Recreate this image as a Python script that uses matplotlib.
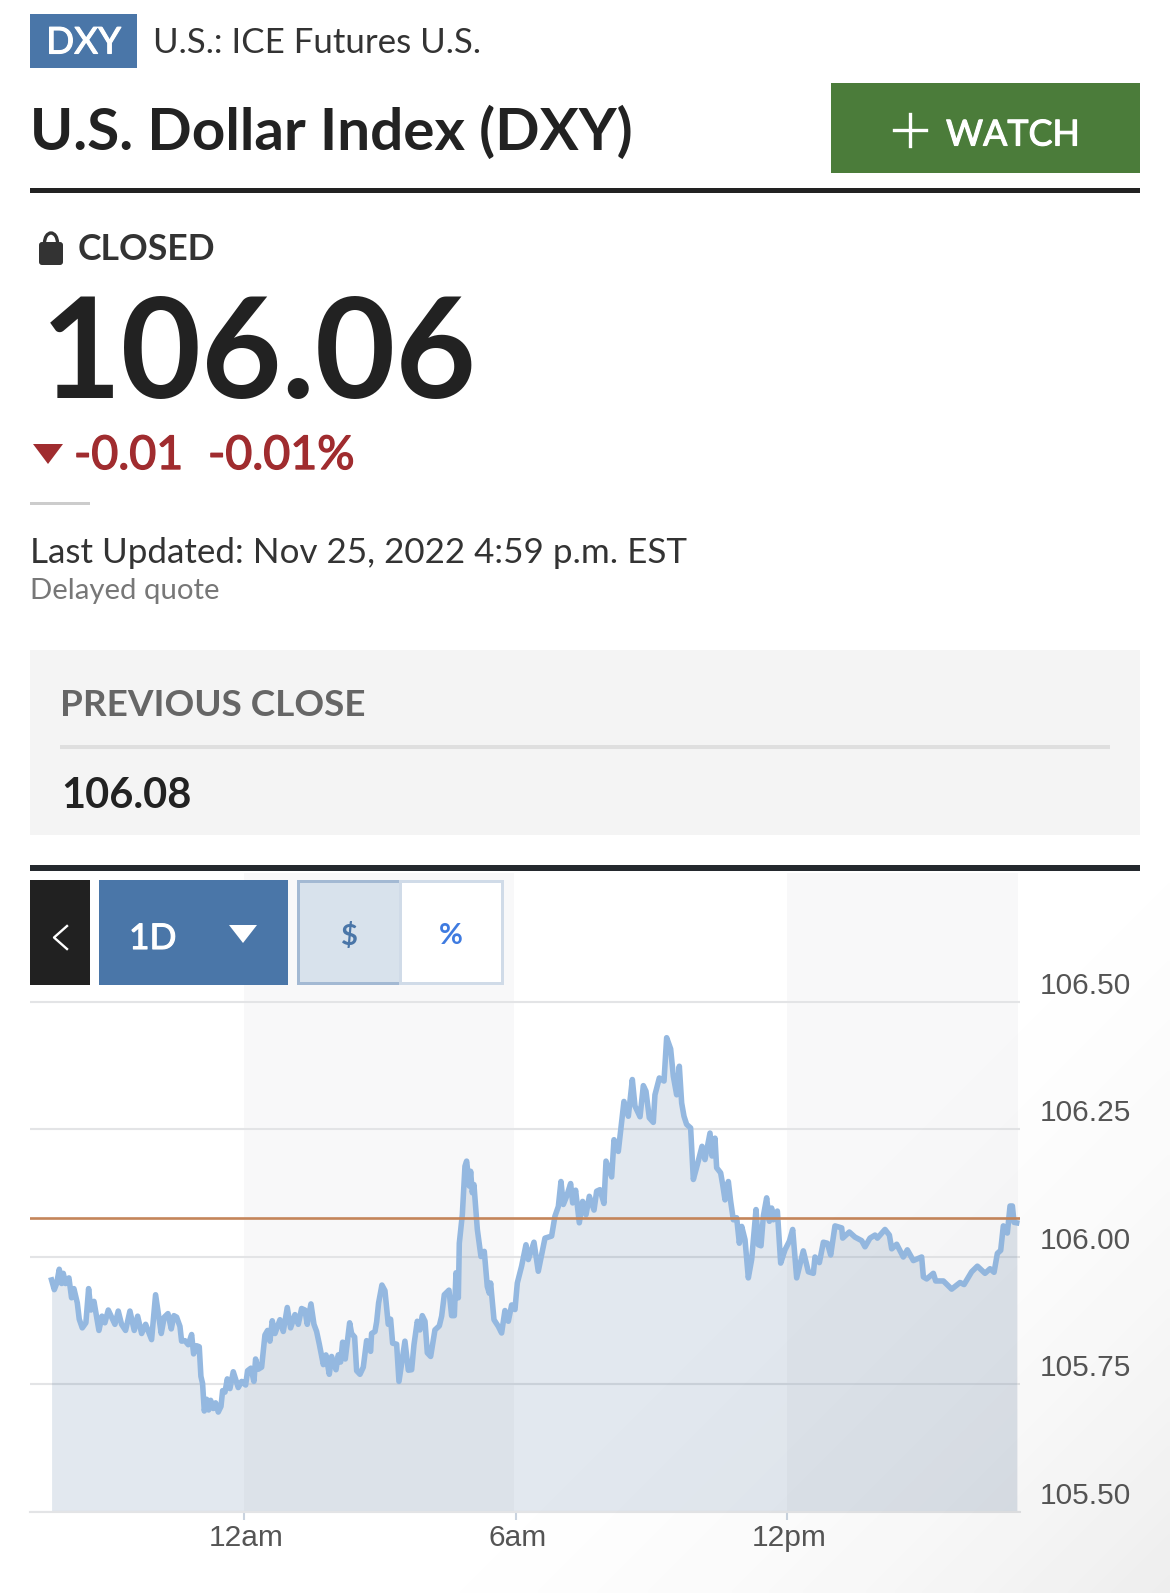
import numpy as np
import matplotlib
matplotlib.use("Agg")
import matplotlib.pyplot as plt
import matplotlib.patheffects as pe
from matplotlib.patches import Rectangle, Polygon, Arc, FancyBboxPatch
from matplotlib.transforms import ScaledTranslation

plt.rcParams['font.family'] = ['Lato', 'DejaVu Sans']

W, H = 1170, 1593

# minutes from midnight, Nov 25
minutes = [-255.5, -251.9, -248.8, -245.3, -242.2, -240, -236.9, -232.5, -229, -225.9, -221.4, -218.8, -214.8, -210,
           -206.4, -203.3, -199.3, -192.7, -188.7, -184.8, -180.3, -175.9, -171.5, -167.1, -162.7, -157.4, -151.6,
           -145.9, -141.4, -136.1, -130.8, -122.9, -117.6, -110.1, -106.1, -101.2, -96.8, -93.3, -89.7, -85.3, -83.1,
           -78.7, -74.3, -69.8, -67.2, -63.2, -59.7, -57.5, -55.3, -53, -49.9, -47.3, -44.6, -41.1, -38, -34.5, -30.9,
           -28.7, -25.6, -22.5, -19, -14.6, -8, -3.5, 1.8, 4.4, 8.8, 12.8, 15, 18.6, 23, 27.4, 30.9, 34, 37.1, 40.7,
           47.3, 51.7, 57, 61.4, 67.2, 71.6, 76, 80.4, 83.5, 88.4, 92.4, 95.9, 99.5, 104.8, 108.3, 112.7, 115.8, 121.6,
           124.6, 127.7, 130.4, 133.9, 139.7, 142.3, 146.3, 149, 153.4, 157.8, 162.2, 167.5, 168.8, 173.3, 175.5,
           178.1, 182.5, 186.5, 190.9, 194, 196.7, 202, 205.1,
           213, 217.5, 221.9, 225, 229.4, 232.9, 236, 239.6, 242.7, 247.1, 252.8, 258.6, 261.7, 265.2, 271.4, 274.9,
           278.5, 280.7, 283.8, 285.1, 289.1, 292.6, 294.8, 298.4, 300.1, 302.3, 304.5, 309, 313.8, 318.2, 322.2,
           324.9, 326.6, 331.1, 336.8, 341.2, 345.6, 350.1, 354.5, 358.9, 362, 367.7, 373.5, 376.6, 384.1, 389.8,
           394.3, 398.7, 407.5, 411.9, 416.4, 419.9, 423, 427.4, 432.7, 435.4, 439.3, 444.2, 448.6, 453.1, 457.5,
           463.7, 467.2, 471.6, 476.9, 479.6, 487.1, 490.2, 495.9, 503.4, 509.2, 514.5, 518, 524.7, 529.1, 532.6, 537,
           542.3, 544.5, 550.3, 556.5, 560, 565.3, 568.9, 573.3, 576.8, 579.9, 583, 586.5, 591.8, 595.4, 600.7, 606.9,
           610.8, 617.5, 620.1, 624.1, 626.3, 631.6, 634.3, 637.4, 641.8, 644.9, 648.4, 652.8, 656.4, 659.5, 663.9,
           668.3, 672.7, 678.5, 681.6, 685.1, 688.2, 692.6, 696.2, 699.2, 701.5, 706.8, 711.2, 716.9, 722.7, 727.1,
           732.4, 741.2, 747.9, 754.5, 756.7, 762.5, 767.8, 773.1, 777.5, 783.2, 792.1, 793.4, 802.2, 809.7, 818.6,
           823, 829.6, 836.3, 839.4, 849.5, 855.3, 858.4, 865, 873.8, 879.1, 887.1, 898.1, 900.4, 904.8, 913.6, 916.7,
           926.9, 937.9, 949, 954.3, 964.4, 972, 982.1, 988.8, 994.1, 998.5, 1002.9, 1006.4, 1011.7, 1015.3, 1018.4,
           1020.6, 1024.1]

prices = [105.955, 105.936, 105.948, 105.976, 105.948, 105.968, 105.948, 105.959, 105.920, 105.938, 105.910, 105.878,
          105.861, 105.871, 105.938, 105.896, 105.913, 105.856, 105.884, 105.871, 105.896, 105.882, 105.868, 105.894,
          105.868, 105.856, 105.894, 105.856, 105.884, 105.850, 105.868, 105.838, 105.926, 105.850, 105.882, 105.889,
          105.859, 105.885, 105.882, 105.864, 105.835, 105.836, 105.828, 105.848, 105.810, 105.826, 105.824, 105.766,
          105.752, 105.698, 105.721, 105.700, 105.719, 105.703, 105.714, 105.696, 105.707, 105.738, 105.735, 105.761,
          105.742, 105.775, 105.744, 105.756, 105.749, 105.777, 105.782, 105.756, 105.800, 105.780, 105.784, 105.847,
          105.856, 105.835, 105.875, 105.850, 105.877, 105.854, 105.901, 105.861, 105.887, 105.868, 105.899, 105.896,
          105.868, 105.908, 105.868, 105.854, 105.829, 105.789, 105.808, 105.770, 105.805, 105.779, 105.808, 105.794,
          105.833, 105.800, 105.871, 105.850, 105.843, 105.777, 105.770, 105.784, 105.836, 105.815, 105.850, 105.854,
          105.873, 105.910, 105.945, 105.934, 105.868, 105.878, 105.831, 105.829, 105.756,
          105.835, 105.778, 105.779, 105.828, 105.874, 105.857, 105.885, 105.874, 105.812, 105.805, 105.857, 105.865,
          105.884, 105.926, 105.935, 105.885, 105.885, 105.969, 105.920, 106.027, 106.083, 106.178, 106.188, 106.139,
          106.168, 106.126, 106.142, 106.054, 106.001, 106.011, 105.942, 105.929, 105.949, 105.877, 105.864, 105.851,
          105.895, 105.874, 105.906, 105.897, 105.949, 105.982, 106.024, 105.995, 106.029, 105.972, 106.005, 106.037,
          106.041, 106.080, 106.099, 106.148, 106.103, 106.119, 106.144, 106.106, 106.131, 106.067, 106.109, 106.083,
          106.119, 106.092, 106.129, 106.132, 106.105, 106.188, 106.157, 106.230, 106.207, 106.305, 106.276, 106.348,
          106.296, 106.275, 106.336, 106.325, 106.273, 106.264, 106.318, 106.351, 106.345, 106.430, 106.408, 106.354,
          106.318, 106.374, 106.302, 106.276, 106.260, 106.253, 106.152, 106.181, 106.217, 106.191, 106.243, 106.198,
          106.233, 106.175, 106.165, 106.142, 106.112, 106.148, 106.109, 106.073, 106.077, 106.027, 106.060, 106.034,
          105.959, 105.995, 106.093, 106.024, 106.022, 106.080, 106.116, 106.070, 106.096, 106.073, 106.090, 105.988,
          106.014, 106.031, 106.054, 105.959, 106.012, 105.971, 105.968, 106.000, 105.989, 106.029, 106.027, 106.004,
          106.061, 106.057, 106.037, 106.049, 106.039, 106.032, 106.020, 106.037, 106.043, 106.037, 106.054, 106.043,
          106.016, 106.025, 106.000, 106.014, 105.993, 106.000, 105.961, 105.957, 105.968, 105.953, 105.953, 105.937,
          105.950, 105.946, 105.971, 105.982, 105.968, 105.977, 105.970, 106.007, 106.013, 106.061, 106.047, 106.100,
          106.100, 106.068, 106.067]

previous_close = 106.076
price_ticks = [105.50, 105.75, 106.00, 106.25, 106.50]
price_labels = ['105.50', '105.75', '106.00', '106.25', '106.50']
time_ticks = [0, 360, 720]
time_labels = ['12am', '6am', '12pm']
shaded_hours = [(0, 358), (720, 1026)]

fig = plt.figure(figsize=(W / 100, H / 100), dpi=100, facecolor='white')


############ chart ############
def px_axes(x0, y0, x1, y1):
    return [x0 / W, 1 - y1 / H, (x1 - x0) / W, (y1 - y0) / H]


ax = fig.add_axes(px_axes(30, 873, 1020, 1512), zorder=1)
ax.set_xlim(-284.1, 1028.5)
ax.set_ylim(105.5, 105.5 + 639 / 510)

for a, b in shaded_hours:
    ax.axvspan(a, b, color='#f8f8f9', lw=0, zorder=0)

ax.set_yticks(price_ticks)
ax.set_yticklabels([])
ax.grid(axis='y', color='#e3e4e6', linewidth=1.5, zorder=1)
ax.set_axisbelow(True)
ax.fill_between(minutes, prices, 105.5, color='#3e6694', alpha=0.15, lw=0, zorder=2)
ax.plot(minutes, prices, color='#94b8e0', lw=4.0, solid_joinstyle='round', zorder=3)
ax.axhline(previous_close, color='#c4855a', lw=1.9, zorder=4)

for val, lab in zip(price_ticks, price_labels):
    ax.annotate(lab, (1, val), xycoords=('axes fraction', 'data'), xytext=(20, 8), textcoords='offset pixels',
                fontsize=21.5, color='#555555', family=['Liberation Sans'], ha='left', va='baseline')

ax.set_xticks(time_ticks)
ax.set_xticklabels(time_labels, fontsize=21.5, color='#555555', family=['Liberation Sans'])
ax.tick_params(axis='x', length=6, width=1.5, color='#c9d3df', pad=3)
ax.tick_params(axis='y', length=0)
shift = ScaledTranslation(1.5 / 100, 0, fig.dpi_scale_trans)
for lab in ax.get_xticklabels():
    lab.set_transform(lab.get_transform() + shift)
for s in ['top', 'left', 'right']:
    ax.spines[s].set_visible(False)
ax.spines['bottom'].set_color('#e3e4e6')
ax.spines['bottom'].set_linewidth(1.5)
ax.patch.set_alpha(0)

############ page furniture ############
page = fig.add_axes([0, 0, 1, 1], zorder=3)
page.set_xlim(0, W)
page.set_ylim(H, 0)
page.axis('off')
page.patch.set_alpha(0)


def box(x0, y0, x1, y1, color, **kw):
    page.add_patch(Rectangle((x0, y0), x1 - x0, y1 - y0, facecolor=color, edgecolor='none', **kw))


def txt(x, y, s, size, color='#222222', weight='normal', ha='left', va='center', stroke=0):
    t = page.text(x, y, s, fontsize=size, color=color, fontweight=weight, ha=ha, va=va)
    if stroke:
        # no Lato Medium here, thicken the regular face a little
        t.set_path_effects([pe.withStroke(linewidth=stroke, foreground=color)])


box(30, 14, 137, 68, '#4a76a8')
txt(83.5, 40, 'DXY', 26.5, 'white', ha='center', va='center_baseline', stroke=0.8)
txt(153, 40, 'U.S.: ICE Futures U.S.', 25.1, '#333333', va='center_baseline')
txt(30, 150, 'U.S. Dollar Index (DXY)', 42, '#222222', 'bold', va='baseline')

box(831, 83, 1140, 173, '#4b7c3a')
page.plot([894, 926], [130, 130], color='white', lw=2.4)
page.plot([910, 910], [114, 146], color='white', lw=2.4)
txt(946, 132, 'WATCH', 25.8, 'white', va='center_baseline', stroke=0.8)

box(30, 188, 1140, 193, '#222222')

# lock
page.add_patch(FancyBboxPatch((41, 244), 20, 19, boxstyle='round,pad=2,rounding_size=3', facecolor='#333333', edgecolor='none'))
page.add_patch(Arc((51, 243), 13, 20, theta1=180, theta2=360, color='#333333', lw=2.4))
txt(78, 247, 'CLOSED', 25.6, '#333333', 'bold', va='center_baseline')

txt(41, 398, '106.06', 100, '#222222', 'bold', va='baseline')

page.add_patch(Polygon([(33, 444), (63, 444), (48, 464)], facecolor='#a02c2f', edgecolor='none'))
txt(74, 452, '-0.01', 33.5, '#a02c2f', va='center_baseline', stroke=1.0)
txt(208, 452, '-0.01%', 33.5, '#a02c2f', va='center_baseline', stroke=1.0)

box(30, 502, 90, 505, '#cccccc')
txt(30, 550, 'Last Updated: Nov 25, 2022 4:59 p.m. EST', 25.2, '#333333', va='center_baseline')
txt(30, 589, 'Delayed quote', 21.2, '#777777', va='center_baseline')

box(30, 650, 1140, 835, '#f4f4f4')
txt(60, 703, 'PREVIOUS CLOSE', 26.6, '#666666', 'bold', va='center_baseline')
box(60, 745, 1110, 749, '#dfdfdf')
txt(61, 793, '106.08', 30, '#222222', 'bold', va='center_baseline')

box(30, 865, 1140, 871, '#24292e')

box(30, 880, 90, 985, '#212121')
page.plot([67, 54, 67], [926, 937.5, 949], color='white', lw=1.7)

box(99, 880, 288, 985, '#4a76a8')
txt(129, 936, '1D', 25.5, 'white', va='center_baseline', stroke=0.8)
page.add_patch(Polygon([(229, 925), (257, 925), (243, 943)], facecolor='white', edgecolor='none'))

box(399, 880, 504, 985, '#d0dbe8')
box(402, 883, 501, 982, 'white')
box(297, 880, 399, 985, '#a3b9d3')
box(300, 883, 399, 982, '#d8e2ec')
txt(349, 934, '$', 21, '#4a76a8', 'bold', ha='center', va='center_baseline')
txt(451, 934, '%', 21, '#3f7be0', 'bold', ha='center', va='center_baseline')

# grey falloff in the bottom right corner of the screenshot
yy, xx = np.mgrid[0:H:4, 0:W:4]
t = np.clip(1 + ((xx - W) + (yy - H)) / 900, 0, 1)
shade = np.zeros(t.shape + (4,))
shade[..., :3] = 0.25
shade[..., 3] = 0.09 * t ** 2
page.imshow(shade, extent=(0, W, H, 0), aspect='auto', zorder=50, interpolation='bilinear')
page.set_xlim(0, W)
page.set_ylim(H, 0)

fig.savefig('out.png', dpi=100)
